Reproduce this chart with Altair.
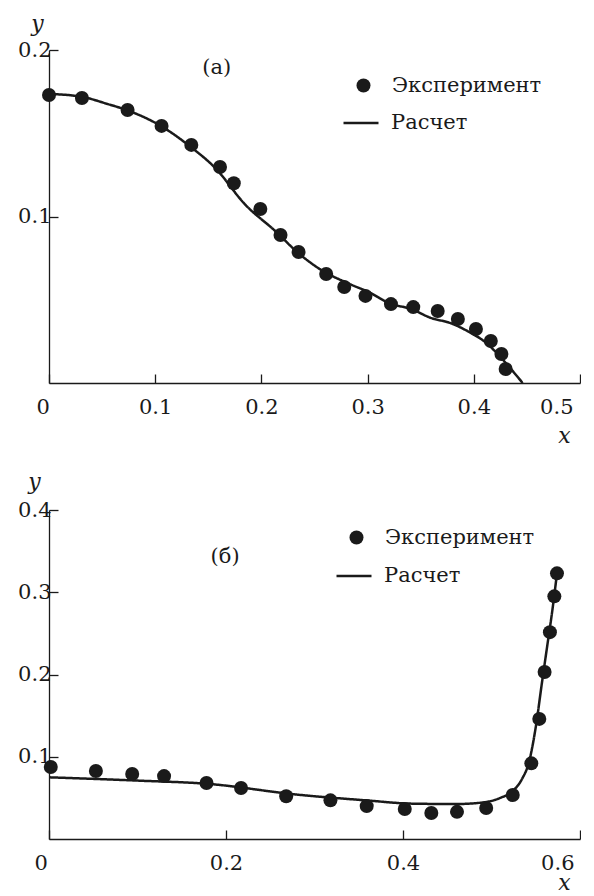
import altair as alt
import pandas as pd

FONT = "DejaVu Serif"
FS = 21
INK = "#1a1a1a"
EXP = "Эксперимент"
CALC = "Расчет"

# ---------- panel (a) ----------
a_exp_x = [0.0, 0.031, 0.074, 0.106, 0.134, 0.161, 0.174, 0.199, 0.218, 0.235, 0.261,
           0.278, 0.298, 0.322, 0.343, 0.366, 0.385, 0.402, 0.416, 0.426, 0.430]
a_exp_y = [0.173, 0.1712, 0.164, 0.1544, 0.143, 0.1297, 0.120, 0.1045, 0.0889, 0.0787, 0.0655,
           0.0577, 0.0523, 0.0474, 0.0456, 0.0432, 0.0384, 0.0324, 0.0252, 0.0174, 0.0084]
a_calc_x = [0.0, 0.03, 0.055, 0.075, 0.105, 0.134, 0.156, 0.185, 0.213, 0.234, 0.256,
            0.283, 0.303, 0.32, 0.341, 0.36, 0.378, 0.394, 0.413, 0.4225, 0.435, 0.446]
a_calc_y = [0.1736, 0.172, 0.1676, 0.1635, 0.1545, 0.1415, 0.1295, 0.107, 0.0913, 0.0785, 0.068,
            0.0595, 0.054, 0.048, 0.0444, 0.039, 0.036, 0.0312, 0.0234, 0.0174, 0.0084, 0.0]
a_xticks = [0, 0.1, 0.2, 0.3, 0.4, 0.5]
a_yticks = [0.1, 0.2]
a_tag = ["(a)"]
a_tag_x = [0.158]
a_tag_y = [0.189]

# ---------- panel (б) ----------
b_exp_x = [0.002, 0.053, 0.094, 0.130, 0.178, 0.217, 0.268, 0.318, 0.359, 0.402, 0.432,
           0.461, 0.494, 0.524, 0.545, 0.554, 0.560, 0.566, 0.571, 0.574]
b_exp_y = [0.0875, 0.0826, 0.079, 0.0765, 0.068, 0.062, 0.052, 0.047, 0.040, 0.0365, 0.0316,
           0.033, 0.0377, 0.0535, 0.092, 0.146, 0.203, 0.2515, 0.295, 0.323]
b_calc_x = [0.0, 0.1, 0.18, 0.28, 0.358, 0.41, 0.46, 0.494, 0.51, 0.523, 0.535,
            0.542, 0.55, 0.557, 0.563, 0.569, 0.574]
b_calc_y = [0.075, 0.071, 0.067, 0.054, 0.047, 0.043, 0.0425, 0.045, 0.05, 0.0575, 0.074,
            0.092, 0.136, 0.19, 0.235, 0.28, 0.323]
b_xticks = [0, 0.2, 0.4, 0.6]
b_yticks = [0.1, 0.2, 0.3, 0.4]
b_tag = ["(б)"]
b_tag_x = [0.199]
b_tag_y = [0.343]


def panel(exp_x, exp_y, calc_x, calc_y, xdom, ydom, xticks, yticks,
          tag, tag_x, tag_y, w, h, leg_pt, leg_ln, ytitle, xtitle, zero_off, last_off):
    exp = pd.DataFrame({"x": exp_x, "y": exp_y, "s": EXP})
    calc = pd.DataFrame({"x": calc_x, "y": calc_y, "s": CALC, "o": list(range(len(calc_x)))})
    tags = pd.DataFrame({"x": tag_x, "y": tag_y, "t": tag})

    last = xticks[-1]
    xs = alt.Scale(domain=xdom, nice=False, zero=False)
    ys = alt.Scale(domain=ydom, nice=False, zero=False)
    xax = alt.Axis(values=xticks, format=".1~f", grid=False, title="x",
                   tickSize={"expr": "-9"}, tickWidth=1.3, tickColor=INK,
                   domainColor=INK, domainWidth=1.3,
                   labelFont=FONT, labelFontSize=FS, labelColor=INK, labelPadding=22,
                   labelOffset={"condition": [{"test": "datum.value === 0", "value": zero_off},
                                              {"test": f"datum.value === {last}", "value": last_off}],
                                "value": 0},
                   titleFont=FONT, titleFontSize=FS + 1, titleFontStyle="italic",
                   titleFontWeight="normal", titleColor=INK, titleAngle=0,
                   titleX=xtitle[0], titleY=xtitle[1], titleAlign="center",
                   titleBaseline="middle")
    yax = alt.Axis(values=yticks, format=".1~f", grid=False, title="y",
                   tickSize={"expr": "-9"}, tickWidth=1.3, tickColor=INK,
                   domainColor=INK, domainWidth=1.3,
                   labelFont=FONT, labelFontSize=FS, labelColor=INK, labelPadding=7,
                   titleFont=FONT, titleFontSize=FS + 1, titleFontStyle="italic",
                   titleFontWeight="normal", titleColor=INK, titleAngle=0,
                   titleX=ytitle[0], titleY=ytitle[1], titleAlign="center",
                   titleBaseline="middle")

    line = alt.Chart(calc).mark_line(color=INK, strokeWidth=2.5, interpolate="monotone").encode(
        x=alt.X("x:Q", scale=xs, axis=xax),
        y=alt.Y("y:Q", scale=ys, axis=yax),
        order="o:Q",
        strokeDash=alt.StrokeDash(
            "s:N", scale=alt.Scale(domain=[CALC], range=[[1, 0]]),
            legend=alt.Legend(title=None, orient="none", legendX=leg_ln[0], legendY=leg_ln[1],
                              symbolType="stroke", symbolSize=1225, symbolStrokeWidth=2.5,
                              symbolStrokeColor=INK, labelFont=FONT, labelFontSize=FS,
                              labelColor=INK, labelOffset=11, padding=0)),
    )
    pts = alt.Chart(exp).mark_point(filled=True, size=196, color=INK, opacity=1).encode(
        x=alt.X("x:Q", scale=xs),
        y=alt.Y("y:Q", scale=ys),
        shape=alt.Shape(
            "s:N", scale=alt.Scale(domain=[EXP], range=["circle"]),
            legend=alt.Legend(title=None, orient="none", legendX=leg_pt[0], legendY=leg_pt[1],
                              symbolSize=196, symbolFillColor=INK, symbolStrokeColor=INK,
                              symbolStrokeWidth=0, labelFont=FONT, labelFontSize=FS,
                              labelColor=INK, labelOffset=18, padding=0)),
    )
    txt = alt.Chart(tags).mark_text(font=FONT, fontSize=FS, color=INK).encode(
        x=alt.X("x:Q", scale=xs), y=alt.Y("y:Q", scale=ys), text="t:N")
    return alt.layer(line, pts, txt).properties(width=w, height=h)


top = panel(a_exp_x, a_exp_y, a_calc_x, a_calc_y, [0, 0.5], [0, 0.2], a_xticks, a_yticks,
            a_tag, a_tag_x, a_tag_y, 531, 333, (304, 25), (293, 54),
            (-12, -27), (515, 52), -13, -7)
bottom = panel(b_exp_x, b_exp_y, b_calc_x, b_calc_y, [0, 0.6], [0, 0.4], b_xticks, b_yticks,
               b_tag, b_tag_x, b_tag_y, 531, 329, (297, 17), (286, 47),
               (-15, -29), (515, 43), -15, -6)

chart = alt.vconcat(top, bottom, spacing=24).resolve_scale(
    shape="independent", strokeDash="independent", x="independent", y="independent"
).resolve_legend(shape="independent", strokeDash="independent").properties(
    padding={"left": 9, "top": 4, "right": 0, "bottom": 0},
    background="white",
).configure_view(stroke=None)

chart.save("out.html", embed_options={"renderer": "svg", "actions": False})
